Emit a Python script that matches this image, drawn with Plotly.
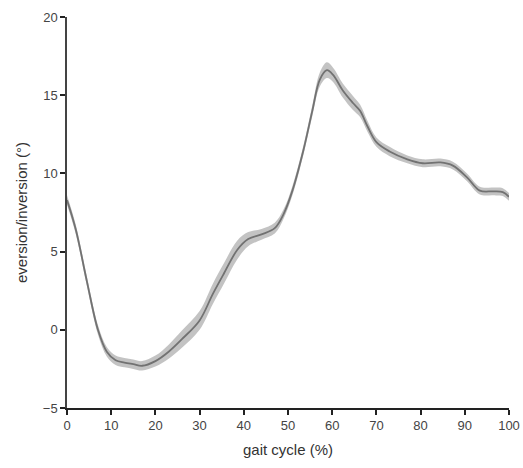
import plotly.graph_objects as go

gait = [0, 2, 4.5, 7, 9, 11, 13, 15, 17, 20, 23, 26, 30, 33, 35.5, 38.5, 41, 44, 47, 49, 51,
        53.5, 55.5, 57.2, 58.8, 60.2, 62.4, 64.7, 66.3, 68, 70, 73, 77, 80.5, 84.5, 87.3,
        90.5, 93.4, 96.4, 98.6, 100]
mean = [8.3, 6.4, 3.1, 0.0, -1.4, -1.95, -2.1, -2.2, -2.3, -2.0, -1.4, -0.6, 0.6, 2.3, 3.6,
        5.1, 5.8, 6.1, 6.5, 7.4, 8.9, 11.5, 14.0, 16.0, 16.6, 16.3, 15.3, 14.5, 14.0, 13.0,
        12.0, 11.4, 10.9, 10.65, 10.7, 10.5, 9.75, 8.9, 8.85, 8.8, 8.5]
sd = [0.3, 0.3, 0.3, 0.3, 0.3, 0.3, 0.3, 0.3, 0.3, 0.35, 0.45, 0.55, 0.6, 0.65, 0.65,
      0.6, 0.45, 0.35, 0.35, 0.3, 0.3, 0.3, 0.35, 0.45, 0.5, 0.45, 0.45, 0.45, 0.4, 0.35,
      0.3, 0.3, 0.25, 0.25, 0.25, 0.25, 0.25, 0.25, 0.25, 0.25, 0.25]

x_ticks = [0, 10, 20, 30, 40, 50, 60, 70, 80, 90, 100]
y_ticks = [-5, 0, 5, 10, 15, 20]

upper = [m + s for m, s in zip(mean, sd)]
lower = [m - s for m, s in zip(mean, sd)]

fig = go.Figure()
fig.add_trace(go.Scatter(x=gait, y=upper, mode="lines", line=dict(width=0, shape="spline"),
                         showlegend=False, hoverinfo="skip"))
fig.add_trace(go.Scatter(x=gait, y=lower, mode="lines", line=dict(width=0, shape="spline"),
                         fill="tonexty", fillcolor="rgba(175,175,175,0.75)",
                         showlegend=False, hoverinfo="skip"))
fig.add_trace(go.Scatter(x=gait, y=mean, mode="lines",
                         line=dict(color="#727272", width=1.8, shape="spline"),
                         showlegend=False))

axis_font = dict(family="Liberation Sans, Arial, sans-serif", size=13, color="#444444")
fig.update_layout(
    width=523, height=468,
    margin=dict(l=67, r=14, t=17, b=60),
    paper_bgcolor="white", plot_bgcolor="white",
    xaxis=dict(range=[0, 100], tickvals=x_ticks, ticks="outside", ticklen=5, tickwidth=1.5,
               tickcolor="#222222", showline=True, linecolor="#222222", linewidth=1.5,
               showgrid=False, zeroline=False, tickfont=axis_font, automargin=False,
               ticklabeloverflow="allow",
               title=dict(text="gait cycle (%)", standoff=12,
                          font=dict(family="Liberation Sans, Arial, sans-serif", size=15,
                                    color="#333333"))),
    yaxis=dict(range=[-5, 20], tickvals=y_ticks, ticks="outside", ticklen=5, tickwidth=1.5,
               tickcolor="#222222", showline=True, linecolor="#444444", linewidth=1.5,
               showgrid=False, zeroline=False, tickfont=axis_font, automargin=False,
               ticklabeloverflow="allow",
               title=dict(text="eversion/inversion (°)", standoff=12,
                          font=dict(family="Liberation Sans, Arial, sans-serif", size=15,
                                    color="#333333"))),
)

fig.write_html("out.html")
